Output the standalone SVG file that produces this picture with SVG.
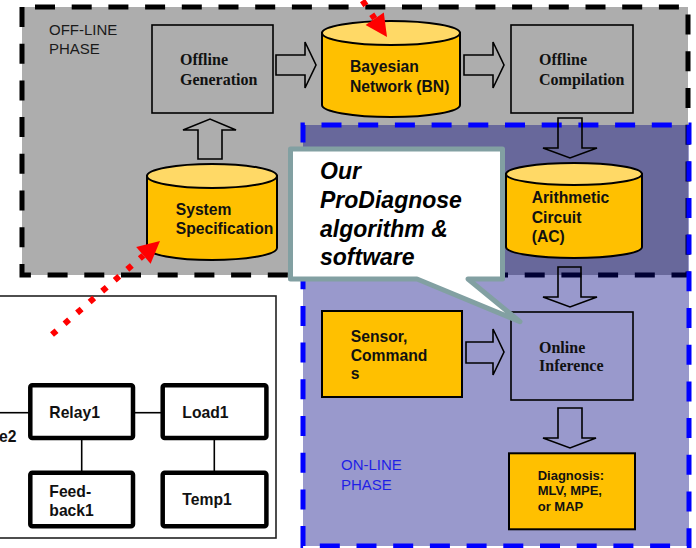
<svg xmlns="http://www.w3.org/2000/svg" width="696" height="548" viewBox="0 0 696 548">
  <style>
    .box { fill: none; stroke: #000; stroke-width: 1.6; }
    .ybox { fill: #FFC000; stroke: #000; stroke-width: 2; }
    .cylbody { fill: #FFC000; stroke: #000; stroke-width: 2; }
    .cyltop { fill: #FFD966; stroke: #000; stroke-width: 2; }
    .barrow { fill: none; stroke: #000; stroke-width: 1.6; stroke-linejoin: miter; }
    .serif { font-family: "Liberation Serif", "Times New Roman", serif; font-weight: bold; font-size: 16px; fill: #111; }
    .sans { font-family: "Liberation Sans", Arial, sans-serif; font-weight: bold; font-size: 15.7px; fill: #111; }
    .small { font-size: 13px; }
    .phase { font-family: "Liberation Sans", Arial, sans-serif; font-size: 15px; }
    .comp { fill: #fff; stroke: #000; stroke-width: 4.5; }
    .wire { stroke: #000; stroke-width: 1.6; fill: none; }
    .dots { stroke: #FF0000; stroke-width: 6; stroke-dasharray: 6 10.6; fill: none; }
  </style>

  <!-- off-line phase region -->
  <g id="offline-phase">
    <rect x="22" y="7" width="666" height="268" fill="#ADADAD" stroke="#000" stroke-width="5" stroke-dasharray="20 16.7" stroke-dashoffset="23.7"/>
    <text class="phase" fill="#1a1a1a" x="49" y="35">OFF-LINE</text>
    <text class="phase" fill="#1a1a1a" x="49" y="53.5">PHASE</text>
  </g>

  <!-- on-line phase region (translucent over the off-line region) -->
  <g id="online-phase">
    <rect x="303" y="125" width="386" height="421" fill="#000080" fill-opacity="0.4" stroke="#0000FF" stroke-width="5" stroke-dasharray="20 16.7" stroke-dashoffset="18.2"/>
    <text class="phase" fill="#1F1FE6" x="341" y="470">ON-LINE</text>
    <text class="phase" fill="#1F1FE6" x="341" y="489.5">PHASE</text>
  </g>

  <!-- hardware model panel -->
  <g id="hardware-model">
    <rect x="-5" y="296" width="281" height="242" fill="#fff" stroke="#222" stroke-width="1.6"/>
    <g id="wires">
      <line class="wire" x1="-2" y1="412.7" x2="30" y2="412.7"/>
      <line class="wire" x1="133" y1="412.7" x2="163" y2="412.7"/>
      <line class="wire" x1="81.7" y1="438" x2="81.7" y2="473"/>
      <line class="wire" x1="214.3" y1="438" x2="214.3" y2="473"/>
    </g>
    <text class="sans" x="-1" y="441.7" font-size="15.5">e2</text>
    <g id="relay1">
      <rect class="comp" x="30.3" y="385.3" width="102.7" height="52.7" rx="2"/>
      <text class="sans" x="49.3" y="417.7" font-size="15.5">Relay1</text>
    </g>
    <g id="load1">
      <rect class="comp" x="162.7" y="385.3" width="103.7" height="52.7" rx="2"/>
      <text class="sans" x="182.3" y="417.7" font-size="15.5">Load1</text>
    </g>
    <g id="feedback1">
      <rect class="comp" x="30.3" y="472.7" width="102.7" height="53.6" rx="2"/>
      <text class="sans" x="49.3" y="496.7" font-size="15.5">Feed-</text>
      <text class="sans" x="49.3" y="515.7" font-size="15.5">back1</text>
    </g>
    <g id="temp1">
      <rect class="comp" x="162.7" y="472.7" width="103.7" height="53.6" rx="2"/>
      <text class="sans" x="182.3" y="505" font-size="15.5">Temp1</text>
    </g>
  </g>

  <!-- block arrows between stages -->
  <g id="connectors">
    <path class="barrow" d="M276,55 H305 V42 L316,65 L305,88 V75 H276 Z"/>
    <path class="barrow" d="M464,55 H493 V42 L504,65 L493,88 V75 H464 Z"/>
    <path class="barrow" d="M198,159 V130 H183 L210,119 L236,130 H222 V159 Z"/>
    <path class="barrow" d="M558,118 V148 H543 L570,158 L597,148 H582 V118 Z"/>
    <path class="barrow" d="M558,267 V297 H543 L570,307 L597,297 H581 V267 Z"/>
    <path class="barrow" d="M466,342 H493 V329 L504,352 L493,375 V363 H466 Z"/>
    <path class="barrow" d="M558,408 V438 H543 L570,448 L596,438 H582 V408 Z"/>
  </g>

  <g id="offline-generation">
    <rect class="box" x="152" y="25" width="121" height="88"/>
    <text class="serif" x="180" y="65">Offline</text>
    <text class="serif" x="180" y="85">Generation</text>
  </g>

  <g id="bayesian-network">
    <path class="cylbody" d="M322,33 V105 A69,12 0 0 0 460,105 V33 Z"/>
    <ellipse class="cyltop" cx="391" cy="33" rx="69" ry="12"/>
    <text class="sans" x="350" y="72">Bayesian</text>
    <text class="sans" x="350" y="92">Network (BN)</text>
  </g>

  <g id="offline-compilation">
    <rect class="box" x="511" y="25" width="122" height="88"/>
    <text class="serif" x="539" y="65">Offline</text>
    <text class="serif" x="539" y="84.5">Compilation</text>
  </g>

  <g id="system-specification">
    <path class="cylbody" d="M147,176 V248 A65,12 0 0 0 277,248 V176 Z"/>
    <ellipse class="cyltop" cx="212" cy="176" rx="65" ry="12"/>
    <text class="sans" x="175.7" y="215">System</text>
    <text class="sans" x="175.7" y="233.5">Specification</text>
  </g>

  <g id="arithmetic-circuit">
    <path class="cylbody" d="M506,174 V247 A68,11 0 0 0 642,247 V174 Z"/>
    <ellipse class="cyltop" cx="574" cy="174" rx="68" ry="11"/>
    <text class="sans" x="531.7" y="203.3">Arithmetic</text>
    <text class="sans" x="531.7" y="222.7">Circuit</text>
    <text class="sans" x="531.7" y="242.3">(AC)</text>
  </g>

  <g id="sensor-commands">
    <rect class="ybox" x="322" y="311" width="140" height="86"/>
    <text class="sans" x="350.7" y="341.7">Sensor,</text>
    <text class="sans" x="350.7" y="360.7">Command</text>
    <text class="sans" x="350.7" y="379.3">s</text>
  </g>

  <g id="online-inference">
    <rect class="box" x="511" y="312" width="122" height="88"/>
    <text class="serif" x="539" y="352.7">Online</text>
    <text class="serif" x="539" y="371">Inference</text>
  </g>

  <g id="diagnosis">
    <rect class="ybox" x="509" y="453.3" width="126" height="76"/>
    <text class="sans small" x="537.7" y="480">Diagnosis:</text>
    <text class="sans small" x="537.7" y="495.3">MLV, MPE,</text>
    <text class="sans small" x="537.7" y="510.7">or MAP</text>
  </g>

  <!-- callout bubble -->
  <g id="callout">
    <path d="M290.5,149 H502.5 V279 H468 L520,321.7 L417,279 H290.5 Z" fill="#fff" stroke="#82A0A2" stroke-width="5" stroke-linejoin="round"/>
    <g font-family="'Liberation Sans', Arial, sans-serif" font-weight="bold" font-style="italic" font-size="23" fill="#000">
      <text x="320" y="179.3">Our</text>
      <text x="320" y="208.3">ProDiagnose</text>
      <text x="320" y="236.7">algorithm &amp;</text>
      <text x="320" y="265">software</text>
    </g>
  </g>

  <!-- red dotted pointers -->
  <g id="pointers">
    <line class="dots" x1="52" y1="334.6" x2="143.4" y2="255.4"/>
    <polygon points="160,241 136.2,247.1 150.6,263.7" fill="#FF0000"/>
    <line class="dots" x1="362.5" y1="0.5" x2="374.7" y2="18.7"/>
    <polygon points="387,37 383.8,12.5 365.6,24.9" fill="#FF0000"/>
  </g>
</svg>
